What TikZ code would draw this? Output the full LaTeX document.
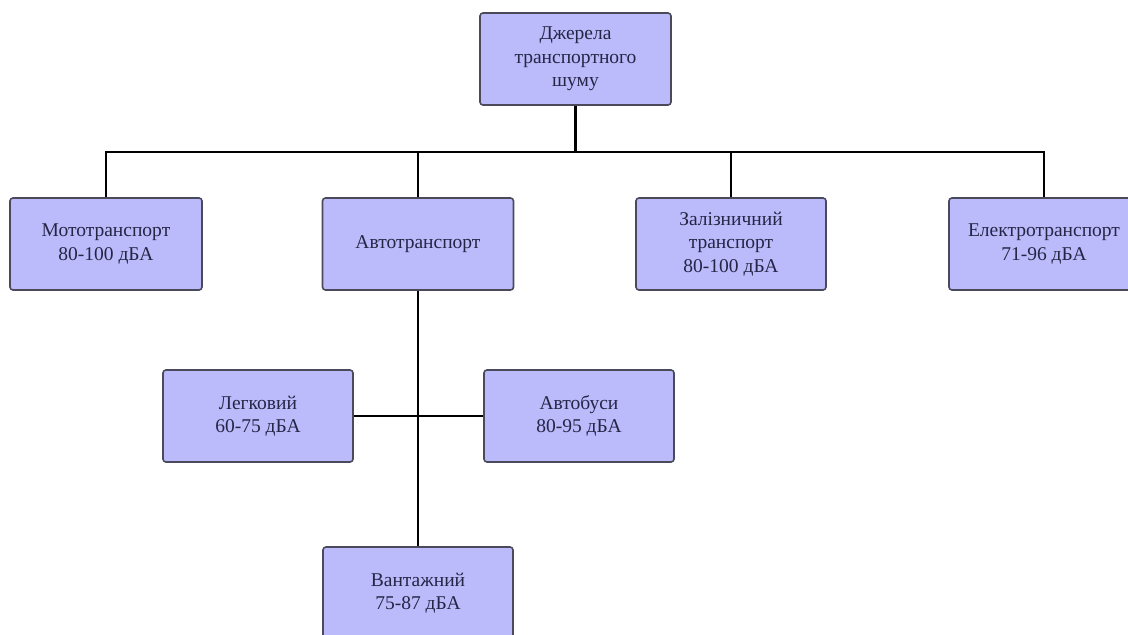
\documentclass[tikz,border=0pt]{standalone}
\usepackage{fontspec}
\setmainfont{Liberation Serif}
\definecolor{boxfill}{HTML}{BBBBFC}
\definecolor{boxline}{HTML}{4A4A5A}
\definecolor{txt}{HTML}{252545}
\begin{document}
\begin{tikzpicture}[x=1pt,y=-1pt,
  box/.style={draw=boxline,line width=1.6pt,fill=boxfill,rounded corners=3pt,
    minimum width=#1,minimum height=92pt,align=center,text=txt,inner sep=2pt,
    font=\fontsize{19.5}{23.5}\selectfont},
  box/.default=190pt,
  conn/.style={draw=black,line width=2.6pt}]
\useasboundingbox (0,0) rectangle (1128,635);
\clip (0,0) rectangle (1128,635);
\node[box=191pt] (root) at (575.5,59) {Джерела\\транспортного\\шуму};
\node[box=192pt] (moto) at (106,244) {Мототранспорт\\80-100 дБА};
\node[box=191pt] (avto) at (418,244) {Автотранспорт};
\node[box=190pt] (zal) at (731,244) {Залізничний\\транспорт\\80-100 дБА};
\node[box=190pt] (el) at (1044,244) {Електротранспорт\\71-96 дБА};
\node[box=190pt] (leg) at (258,416) {Легковий\\60-75 дБА};
\node[box=190pt] (bus) at (579,416) {Автобуси\\80-95 дБА};
\node[box=190pt] (van) at (418,593) {Вантажний\\75-87 дБА};
\coordinate (bus0) at (575.5,152);
\draw[conn] (root.south) -- (bus0);
\draw[conn] (moto.north) |- (bus0) -| (el.north);
\draw[conn] (avto.north) -- (avto.north |- bus0);
\draw[conn] (zal.north) -- (zal.north |- bus0);
\draw[conn] (avto.south) -- (van.north);
\draw[conn] (leg.east) -- (bus.west);
\end{tikzpicture}
\end{document}
